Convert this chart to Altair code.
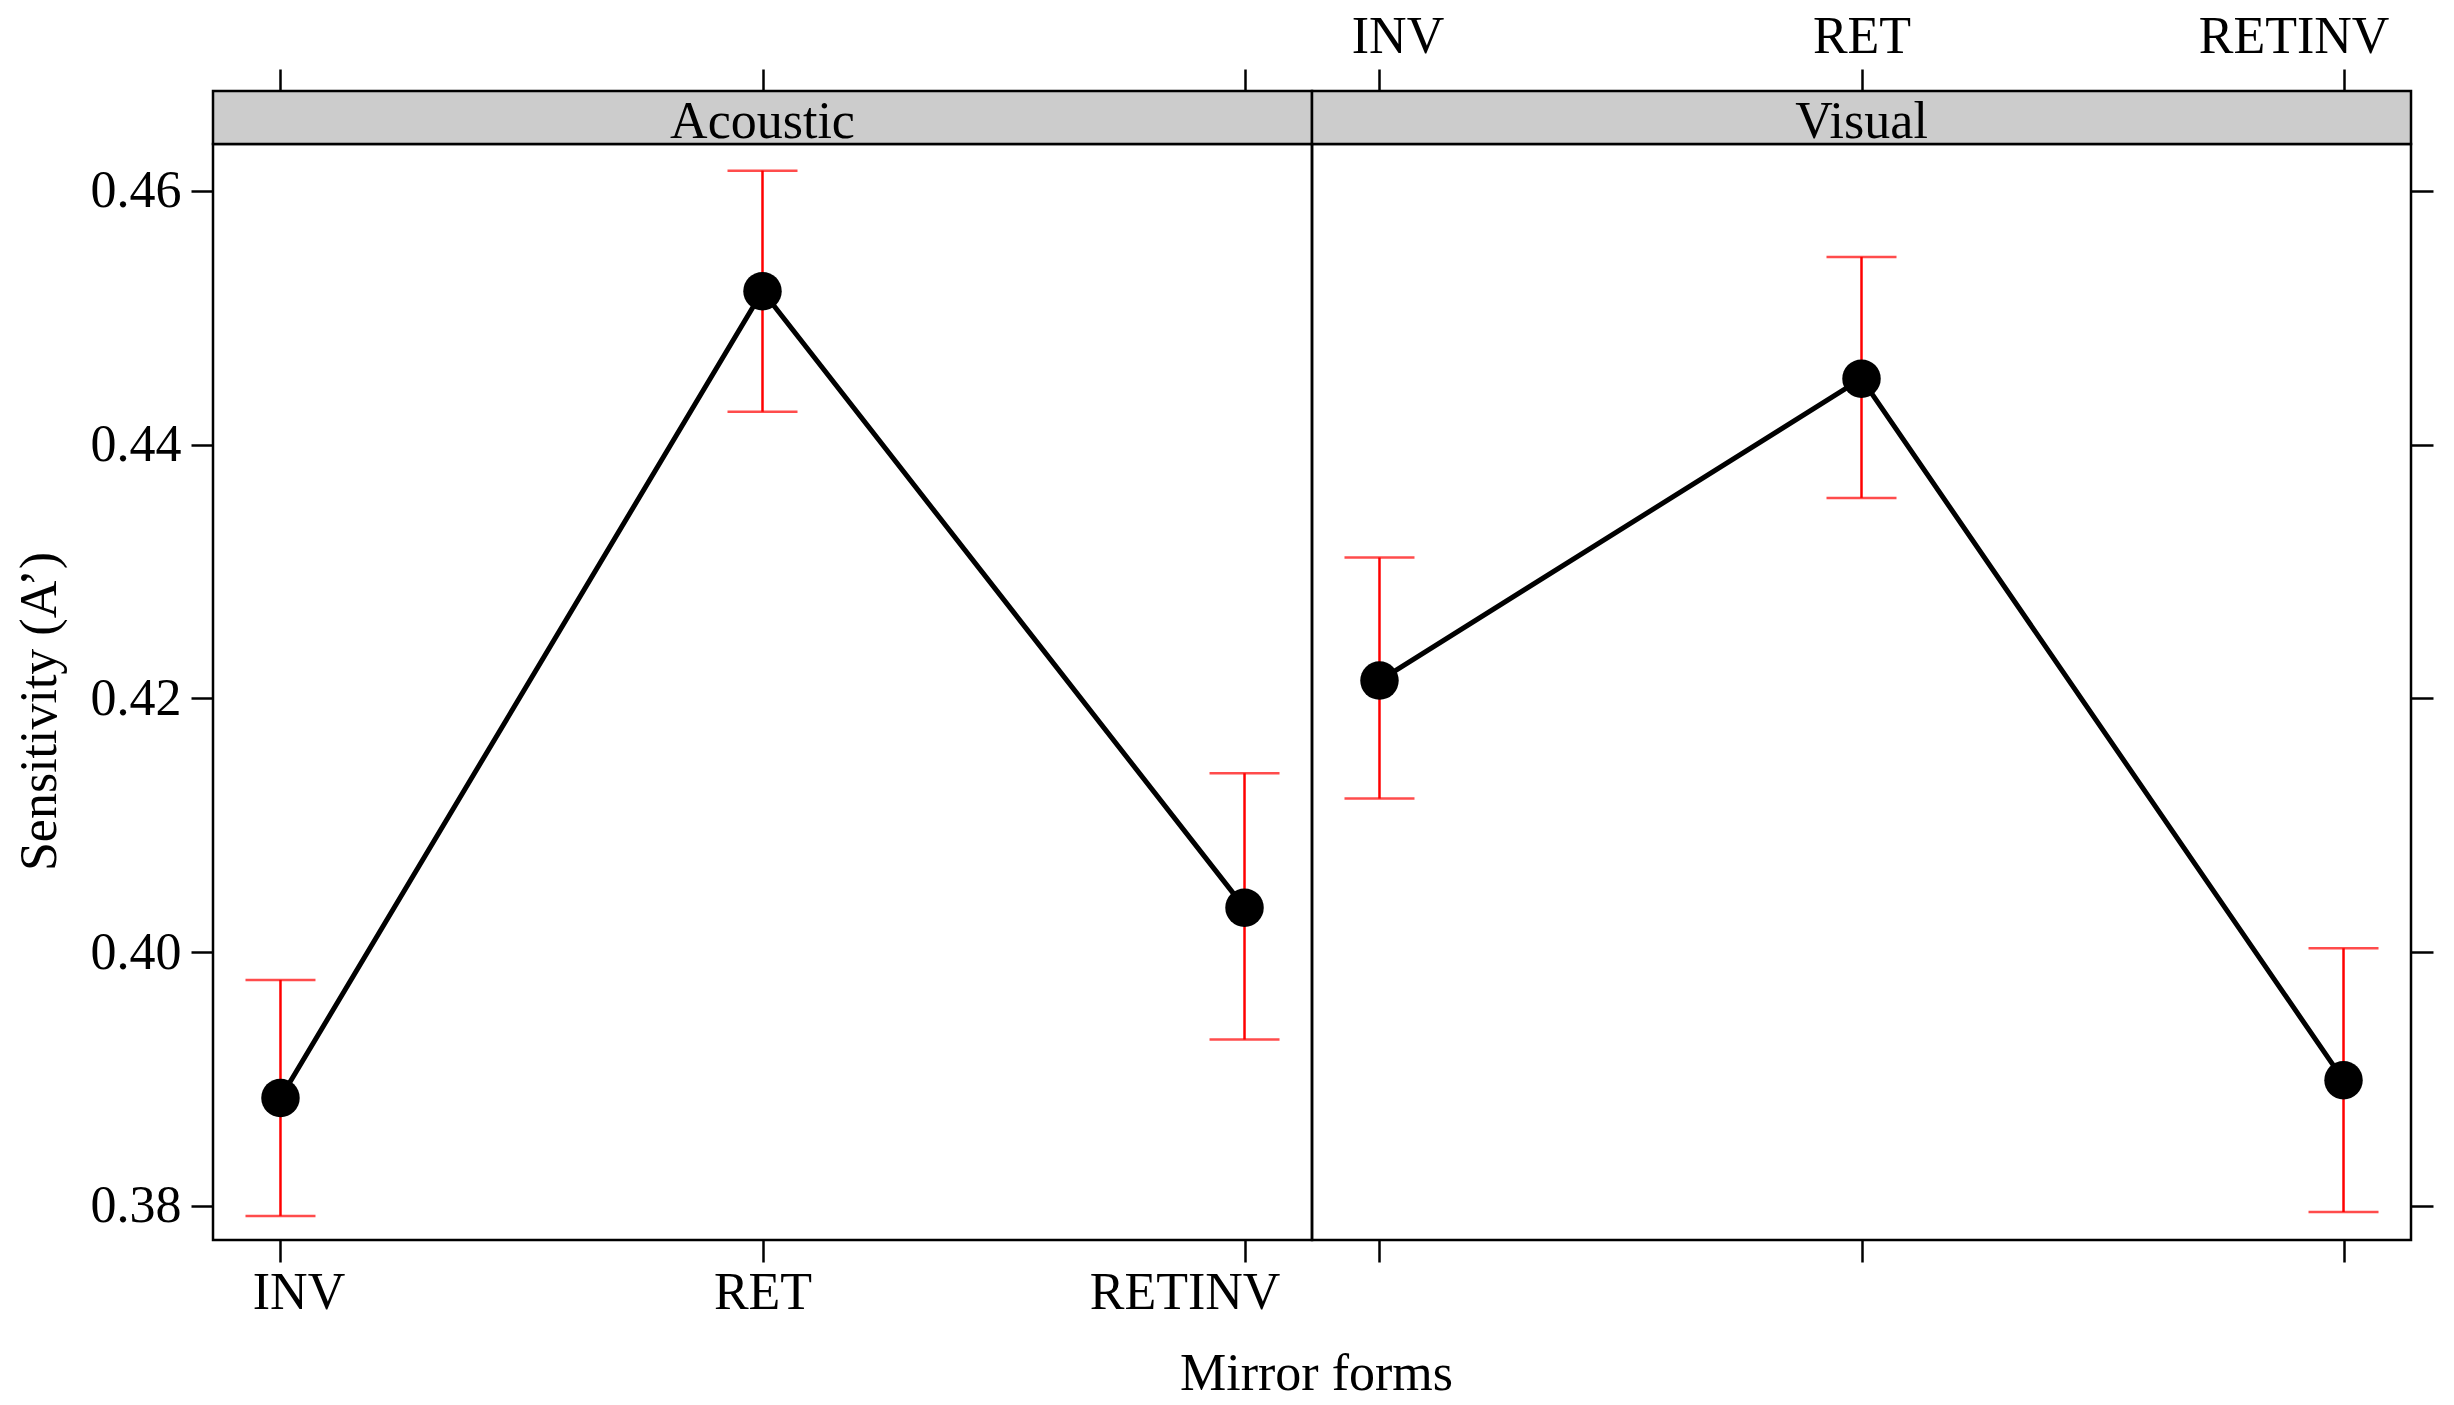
import altair as alt
import pandas as pd

# ---- data ----
forms = ["INV", "RET", "RETINV"]
panels = ["Acoustic", "Visual"]

acoustic_mean = [0.3885, 0.4521, 0.4035]
acoustic_lower = [0.3792, 0.4426, 0.3931]
acoustic_upper = [0.3978, 0.4616, 0.4141]

visual_mean = [0.4214, 0.4452, 0.3899]
visual_lower = [0.4121, 0.4358, 0.3795]
visual_upper = [0.4311, 0.4548, 0.4003]

y_ticks = [0.38, 0.40, 0.42, 0.44, 0.46]
y_domain = [0.3773, 0.4637]

x_title = "Mirror forms"
y_title = "Sensitivity (A\u2019)"

# ---- style ----
FONT = "Liberation Serif"
FS = 52
W, H = 1099, 1096
STRIP = 53
TICK = 22
LW = 2.5


def make_df(mean, lo, hi):
    return pd.DataFrame({"form": forms, "mean": mean, "lower": lo, "upper": hi})


xscale = alt.Scale(type="point", domain=forms, padding=0.14)
yscale = alt.Scale(domain=y_domain, nice=False, zero=False)

common = dict(
    labelFont=FONT, labelFontSize=FS, labelColor="black", labelLimit=500,
    tickColor="black", tickSize=TICK, tickWidth=LW,
    domain=False, grid=False,
)


def label_shift(first, last):
    return {
        "condition": [
            {"test": "datum.value === 'INV'", "value": first},
            {"test": "datum.value === 'RETINV'", "value": last},
        ],
        "value": 0,
    }


def panel(name, df, left):
    if left:
        x_top = alt.Axis(orient="top", offset=STRIP, labels=False, title=None, **common)
        x_bot = alt.Axis(orient="bottom", labelAngle=0, labelPadding=5,
                         labelOffset=label_shift(18, -60),
                         title=x_title, titleFont=FONT, titleFontSize=FS,
                         titleFontWeight="normal", titleColor="black",
                         titleX=W + 4, titleY=108, **common)
        y_ax = alt.Axis(orient="left", values=y_ticks, format=".2f", labelPadding=10,
                        title=y_title, titleFont=FONT, titleFontSize=FS,
                        titleFontWeight="normal", titleColor="black",
                        titleX=-147, titleY=567, **common)
    else:
        x_top = alt.Axis(orient="top", offset=STRIP, labelAngle=0, labelPadding=6,
                         labelOffset=label_shift(18, -50),
                         title=None, **common)
        x_bot = alt.Axis(orient="bottom", labels=False, title=None, **common)
        y_ax = alt.Axis(orient="right", values=y_ticks, labels=False, title=None, **common)

    base = alt.Chart(df)
    strip_df = pd.DataFrame({"panel": [name]})

    strip_rect = alt.Chart(strip_df).mark_rect(
        fill="#cccccc", stroke="black", strokeWidth=LW
    ).encode(x=alt.value(0), x2=alt.value(W), y=alt.value(-STRIP), y2=alt.value(0))

    strip_text = alt.Chart(strip_df).mark_text(
        font=FONT, fontSize=FS, color="black", align="center", baseline="alphabetic"
    ).encode(x=alt.value(W / 2), y=alt.value(-6), text="panel:N")

    rule = base.mark_rule(color="red", strokeWidth=LW).encode(
        x=alt.X("form:N", scale=xscale, axis=x_top),
        y=alt.Y("lower:Q", scale=yscale, axis=y_ax),
        y2="upper:Q",
    )
    cap_hi = base.mark_tick(color="red", thickness=LW, size=70, orient="horizontal").encode(
        x=alt.X("form:N", scale=xscale, axis=None),
        y=alt.Y("upper:Q", scale=yscale, axis=None),
    )
    cap_lo = base.mark_tick(color="red", thickness=LW, size=70, orient="horizontal").encode(
        x=alt.X("form:N", scale=xscale, axis=None),
        y=alt.Y("lower:Q", scale=yscale, axis=None),
    )
    line = base.mark_line(color="black", strokeWidth=5).encode(
        x=alt.X("form:N", scale=xscale, axis=x_bot),
        y=alt.Y("mean:Q", scale=yscale, axis=None),
    )
    pts = base.mark_point(filled=True, color="black", opacity=1, size=1480, shape="circle").encode(
        x=alt.X("form:N", scale=xscale, axis=None),
        y=alt.Y("mean:Q", scale=yscale, axis=None),
    )

    return alt.layer(strip_rect, strip_text, rule, cap_hi, cap_lo, line, pts).resolve_axis(
        x="independent", y="independent"
    ).properties(width=W, height=H)


left = panel(panels[0], make_df(acoustic_mean, acoustic_lower, acoustic_upper), True)
right = panel(panels[1], make_df(visual_mean, visual_lower, visual_upper), False)

chart = alt.hconcat(left, right, spacing=0, bounds="flush").properties(
    padding={"left": 3, "top": 0, "right": 0, "bottom": 0}
).configure(font=FONT).configure_view(stroke="black", strokeWidth=LW)

chart.save("out.html", embed_options={"renderer": "svg", "actions": False})
